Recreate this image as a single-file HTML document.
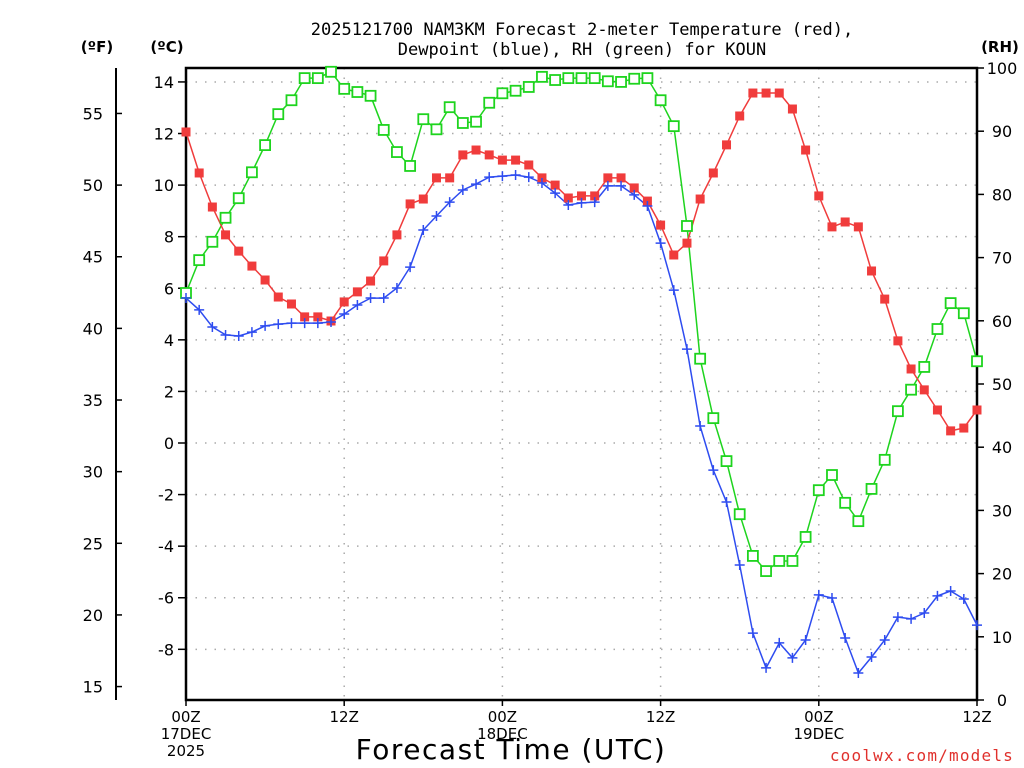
<!DOCTYPE html>
<html><head><meta charset="utf-8"><style>
body{margin:0;background:#fff;}
svg{display:block;font-family:"DejaVu Sans","Liberation Sans",sans-serif;}
</style></head><body>
<svg id="chart" width="1024" height="768" viewBox="0 0 1024 768">
<text x="582" y="35" text-anchor="middle" font-size="17" font-family="DejaVu Sans Mono, monospace">2025121700 NAM3KM Forecast 2-meter Temperature (red),</text>
<text x="582" y="55" text-anchor="middle" font-size="17" font-family="DejaVu Sans Mono, monospace">Dewpoint (blue), RH (green) for KOUN</text>
<text x="97" y="52" text-anchor="middle" font-size="15" font-weight="bold">(ºF)</text>
<text x="167" y="52" text-anchor="middle" font-size="15" font-weight="bold">(ºC)</text>
<text x="1000" y="52" text-anchor="middle" font-size="15" font-weight="bold">(RH)</text>
<g id="grid"></g>
<g id="axes"></g>
<g id="series"></g>
<text x="511" y="759" text-anchor="middle" font-size="28" letter-spacing="1.5">Forecast Time (UTC)</text>
<text x="1014" y="761" text-anchor="end" font-size="16" letter-spacing="1.2" font-family="DejaVu Sans Mono, monospace" fill="#e0302c">coolwx.com/models</text>
</svg>
<script>
const temps=[12.06,10.47,9.15,8.07,7.44,6.86,6.32,5.66,5.39,4.89,4.89,4.73,5.47,5.86,6.28,7.06,8.07,9.27,9.46,10.28,10.28,11.17,11.36,11.17,10.97,10.97,10.78,10.28,10.0,9.5,9.58,9.58,10.28,10.28,9.89,9.38,8.45,7.29,7.75,9.46,10.47,11.56,12.68,13.57,13.57,13.57,12.95,11.36,9.58,8.38,8.57,8.38,6.67,5.58,3.96,2.87,2.06,1.28,0.47,0.58,1.28];
const dewpoints=[5.62,5.16,4.5,4.19,4.15,4.3,4.54,4.61,4.65,4.65,4.65,4.69,5.0,5.35,5.62,5.62,6.01,6.82,8.26,8.8,9.34,9.81,10.04,10.31,10.35,10.39,10.31,10.08,9.69,9.23,9.31,9.34,9.97,9.97,9.62,9.19,7.75,5.93,3.64,0.66,-1.05,-2.29,-4.73,-7.37,-8.72,-7.75,-8.33,-7.64,-5.89,-6.01,-7.56,-8.92,-8.3,-7.64,-6.75,-6.82,-6.59,-5.93,-5.74,-6.05,-7.06];
const rhs=[64.4,69.6,72.5,76.3,79.4,83.5,87.8,92.7,94.9,98.4,98.4,99.4,96.7,96.2,95.6,90.2,86.7,84.5,91.9,90.3,93.8,91.3,91.5,94.5,96.0,96.4,97.0,98.6,98.1,98.4,98.4,98.4,97.9,97.8,98.3,98.4,94.9,90.8,75.0,54.0,44.6,37.8,29.4,22.8,20.4,22.0,22.0,25.8,33.2,35.6,31.2,28.3,33.4,38.0,45.7,49.1,52.7,58.7,62.8,61.2,53.6];
const celsiusTicks=[-8,-6,-4,-2,0,2,4,6,8,10,12,14];
const fahrenheitTicks=[15,20,25,30,35,40,45,50,55];
const rhTicks=[0,10,20,30,40,50,60,70,80,90,100];
const timeHours=[0,12,24,36,48,60];
const timeLabels=[["00Z","17DEC","2025"],["12Z"],["00Z","18DEC"],["12Z"],["00Z","19DEC"],["12Z"]];

const NS="http://www.w3.org/2000/svg";
const X0=186,X1=977,Y0=68,Y1=700;
const xS=h=>X0+(X1-X0)*h/60;
const yC=c=>443-c*25.79;
const yF=f=>yC((f-32)*5/9);
const yR=r=>Y1-(Y1-Y0)*r/100;
function mk(tag,attrs,parent,text){const e=document.createElementNS(NS,tag);for(const k in attrs)e.setAttribute(k,attrs[k]);if(text!==undefined)e.textContent=text;parent.appendChild(e);return e;}
const grid=document.getElementById('grid'),axes=document.getElementById('axes'),ser=document.getElementById('series');

celsiusTicks.forEach(c=>{
 const l=mk('line',{x1:X0,x2:X1,y1:yC(c),y2:yC(c),stroke:'#aaa','stroke-width':1.5,'stroke-dasharray':'1.5 8'},grid);
 
 
 const tk=mk('line',{x1:X0-8,x2:X0,y1:yC(c),y2:yC(c),stroke:'#000','stroke-width':1.5},axes);
 
 
 const t=mk('text',{x:X0-12,y:yC(c)+6,'text-anchor':'end','font-size':16},axes,String(c));
 
 
});
timeHours.forEach((h,i)=>{
 if(h>0&&h<60){const l=mk('line',{x1:xS(h),x2:xS(h),y1:Y0,y2:Y1,stroke:'#aaa','stroke-width':1.5,'stroke-dasharray':'1.5 8'},grid);
 
 }
 const tk=mk('line',{x1:xS(h),x2:xS(h),y1:Y1,y2:Y1+6,stroke:'#000','stroke-width':1.5},axes);
 
 
 timeLabels[i].forEach((s,j)=>{
  const t=mk('text',{x:xS(h),y:722+j*17,'text-anchor':'middle','font-size':15},axes,s);
  
  
 });
});
fahrenheitTicks.forEach(f=>{
 const tk=mk('line',{x1:116,x2:122,y1:yF(f),y2:yF(f),stroke:'#000','stroke-width':1.5},axes);
 
 
 const t=mk('text',{x:103,y:yF(f)+6,'text-anchor':'end','font-size':16},axes,String(f));
 
 
});
rhTicks.forEach(r=>{
 const tk=mk('line',{x1:X1,x2:X1+7,y1:yR(r),y2:yR(r),stroke:'#000','stroke-width':1.5},axes);
 
 
 const t=mk('text',{x:1002,y:yR(r)+6,'text-anchor':'middle','font-size':16},axes,String(r));
 
 
});
const fAxis=mk('line',{x1:116,x2:116,y1:68,y2:700,stroke:'#000','stroke-width':2},axes);


const frame=mk('path',{d:`M${X0},${Y0}H${X1}V${Y1}H${X0}Z`,fill:'none',stroke:'#000','stroke-width':2.5},axes);



function drawLine(vals,yf,color,name){
 const d=vals.map((v,i)=>(i?'L':'M')+xS(i).toFixed(1)+','+yf(v).toFixed(1)).join('');
 const p=mk('path',{d:d,fill:'none',stroke:color,'stroke-width':1.5},ser);
 
 
}
drawLine(rhs,yR,'#1ed41e','rh');
drawLine(temps,yC,'#f03c3c','temperature');
drawLine(dewpoints,yC,'#2e4cf0','dewpoint');
rhs.forEach((v,i)=>{
 const r=mk('rect',{x:xS(i)-5,y:yR(v)-5,width:10,height:10,fill:'#fff',stroke:'#1ed41e','stroke-width':1.8},ser);
 
 
});
temps.forEach((v,i)=>{
 const r=mk('rect',{x:xS(i)-4.5,y:yC(v)-4.5,width:9,height:9,fill:'#f03c3c'},ser);
 
 
});
dewpoints.forEach((v,i)=>{
 const x=xS(i),y=yC(v);
 const p=mk('path',{d:`M${x-5},${y}H${x+5}M${x},${y-5}V${y+5}`,stroke:'#2e4cf0','stroke-width':1.5},ser);
 
 
});
</script>
</body></html>
